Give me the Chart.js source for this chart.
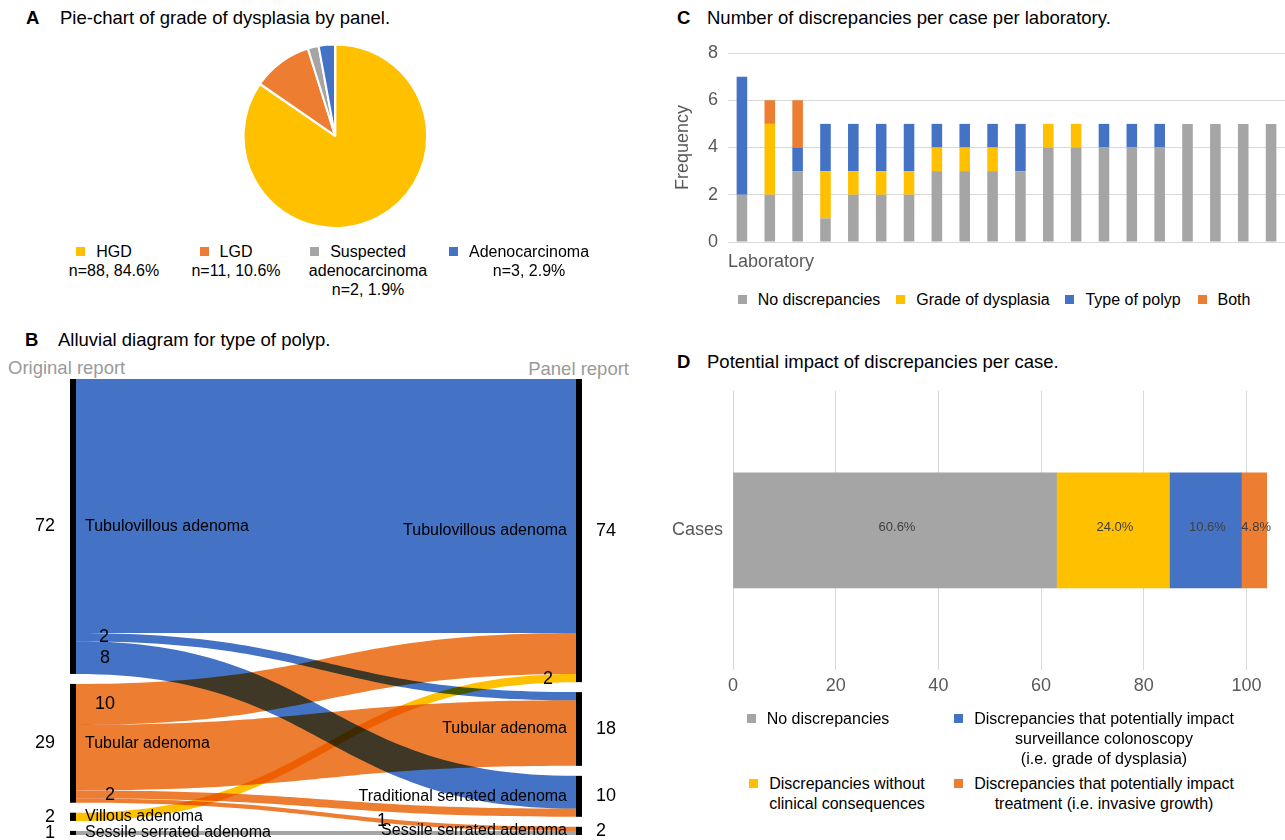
<!DOCTYPE html>
<html>
<head>
<meta charset="utf-8">
<title>Discrepancies between original and panel report</title>
<script src="https://cdn.jsdelivr.net/npm/chart.js@4.4.1/dist/chart.umd.min.js"></script>
<style>
  body { margin: 0; background: #fff; font-family: "Liberation Sans", Arial, sans-serif; }
  #page { position: relative; width: 1285px; height: 840px; overflow: hidden; }
  canvas { position: absolute; }
  .title { position: absolute; font-size: 18.5px; line-height: 22px; white-space: nowrap; color: #000; }
  .title b { position: absolute; left: 0; }
  .axis-note { position: absolute; font-size: 18.5px; line-height: 22px; color: #9a9a9a; white-space: nowrap; }
  .legend-item { position: absolute; width: 400px; text-align: center; font-size: 16px; line-height: 19px; color: #000; white-space: nowrap; }
  .legend-item span { position: relative; }
  .swatch { position: absolute; left: -20px; top: 50%; margin-top: -4.5px; width: 9px; height: 9px; }
</style>
</head>
<body>
<div id="page">
  <div class="title" style="left:26px; top:7px;"><b>A</b><span style="margin-left:34px">Pie-chart of grade of dysplasia by panel.</span></div>
  <div class="title" style="left:25px; top:329px;"><b>B</b><span style="margin-left:33px">Alluvial diagram for type of polyp.</span></div>
  <div class="title" style="left:677px; top:7px;"><b>C</b><span style="margin-left:30px">Number of discrepancies per case per laboratory.</span></div>
  <div class="title" style="left:677px; top:351px;"><b>D</b><span style="margin-left:30px">Potential impact of discrepancies per case.</span></div>

  <div class="axis-note" style="left:8px; top:357px;">Original report</div>
  <div class="axis-note" style="right:656px; top:358px;">Panel report</div>

  <canvas id="pieChart" width="670" height="187" style="left:0; top:42px;"></canvas>
  <canvas id="alluvialChart" width="640" height="470" style="left:0; top:370px;"></canvas>
  <canvas id="labChart" width="625" height="250" style="left:660px; top:30px;"></canvas>
  <canvas id="impactChart" width="625" height="330" style="left:660px; top:370px;"></canvas>
</div>

<script>
// ---------- A: grade of dysplasia ----------
const gradeLabels = ['HGD', 'LGD', 'Suspected adenocarcinoma', 'Adenocarcinoma'];
const gradeCounts = [88, 11, 2, 3];
const gradeLegendText = [
  ['HGD', 'n=88, 84.6%'],
  ['LGD', 'n=11, 10.6%'],
  ['Suspected', 'adenocarcinoma', 'n=2, 1.9%'],
  ['Adenocarcinoma', 'n=3, 2.9%']
];

// ---------- B: type of polyp ----------
const originalTypes = ['Tubulovillous adenoma', 'Tubular adenoma', 'Villous adenoma', 'Sessile serrated adenoma'];
const panelTypes = ['Tubulovillous adenoma', 'Tubular adenoma', 'Traditional serrated adenoma', 'Sessile serrated adenoma'];
const flowFrom = [0, 0, 0, 1, 1, 1, 1, 2, 3];
const flowTo = [0, 1, 2, 0, 1, 2, 3, 0, 3];
const flowCounts = [62, 2, 8, 10, 16, 2, 1, 2, 1];
const flowLabelled = [false, true, true, true, false, true, true, true, false];

// ---------- C: discrepancies per laboratory ----------
const laboratories = ['Lab 1', 'Lab 2', 'Lab 3', 'Lab 4', 'Lab 5', 'Lab 6', 'Lab 7', 'Lab 8', 'Lab 9', 'Lab 10',
  'Lab 11', 'Lab 12', 'Lab 13', 'Lab 14', 'Lab 15', 'Lab 16', 'Lab 17', 'Lab 18', 'Lab 19', 'Lab 20'];
const discrepancyTypes = ['No discrepancies', 'Grade of dysplasia', 'Type of polyp', 'Both'];
const noDiscrepancies = [2, 2, 3, 1, 2, 2, 2, 3, 3, 3, 3, 4, 4, 4, 4, 4, 5, 5, 5, 5];
const gradeOfDysplasia = [0, 3, 0, 2, 1, 1, 1, 1, 1, 1, 0, 1, 1, 0, 0, 0, 0, 0, 0, 0];
const typeOfPolyp = [5, 0, 1, 2, 2, 2, 2, 1, 1, 1, 2, 0, 0, 1, 1, 1, 0, 0, 0, 0];
const bothDiscrepancies = [0, 1, 2, 0, 0, 0, 0, 0, 0, 0, 0, 0, 0, 0, 0, 0, 0, 0, 0, 0];
const frequencyTicks = [0, 2, 4, 6, 8];

// ---------- D: potential impact ----------
const impactCategories = ['Cases'];
const impactGroups = ['No discrepancies', 'Discrepancies without clinical consequences',
  'Discrepancies that potentially impact surveillance colonoscopy (i.e. grade of dysplasia)',
  'Discrepancies that potentially impact treatment (i.e. invasive growth)'];
const impactCases = [63, 22, 14, 5];
const impactPercentLabels = ['60.6%', '24.0%', '10.6%', '4.8%'];
const impactTicks = [0, 20, 40, 60, 80, 100];
const impactLegendText = [
  ['No discrepancies'],
  ['Discrepancies without', 'clinical consequences'],
  ['Discrepancies that potentially impact', 'surveillance colonoscopy', '(i.e. grade of dysplasia)'],
  ['Discrepancies that potentially impact', 'treatment (i.e. invasive growth)']
];

// colours (office palette)
const GRAY = '#A5A5A5', YELLOW = '#FFC000', BLUE = '#4472C4', ORANGE = '#ED7D31';
const FONT = '"Liberation Sans", Arial, sans-serif';
const TICK_COLOR = '#595959';
const GRID_COLOR = '#d9d9d9';

Chart.defaults.font.family = FONT;
Chart.defaults.animation = false;
Chart.defaults.responsive = false;
Chart.defaults.plugins.legend.display = false;
Chart.defaults.plugins.tooltip.enabled = false;

const page = document.getElementById('page');

// html legends, lines centred, swatch before the first line
function addLegendItem(color, lines, cx, top) {
  const box = document.createElement('div');
  box.className = 'legend-item';
  box.style.left = (cx - 200) + 'px';
  box.style.top = top + 'px';
  lines.forEach((line, i) => {
    const row = document.createElement('div');
    const span = document.createElement('span');
    span.textContent = line;
    if (i === 0) {
      const sw = document.createElement('i');
      sw.className = 'swatch';
      sw.style.background = color;
      span.appendChild(sw);
    }
    row.appendChild(span);
    box.appendChild(row);
  });
  page.appendChild(box);
  return box;
}

// ---------- A ----------
const gradeColors = [YELLOW, ORANGE, GRAY, BLUE];
new Chart(document.getElementById('pieChart'), {
  type: 'pie',
  data: {
    labels: gradeLabels,
    datasets: [{
      data: gradeCounts,
      backgroundColor: gradeColors,
      borderColor: '#fff',
      borderWidth: 2,
      offset: [3, 0, 0, 0]
    }]
  }
});
const pieLegendPos = [[114, 242], [236, 242], [368, 242], [529, 242]];
gradeLegendText.forEach((lines, i) => addLegendItem(gradeColors[i], lines, pieLegendPos[i][0], pieLegendPos[i][1]));

// ---------- B ----------
const typeColors = [BLUE, ORANGE, YELLOW, GRAY];   // by original report
const NODE_GAP = 2.44;                             // gap between stacked nodes, in cases

function stackNodes(count, side) {
  const totals = new Array(count).fill(0);
  flowCounts.forEach((v, i) => { totals[side === 'from' ? flowFrom[i] : flowTo[i]] += v; });
  const starts = [];
  let pos = 0;
  totals.forEach(t => { starts.push(pos); pos += t + NODE_GAP; });
  return { totals, starts, end: pos - NODE_GAP };
}
const leftStack = stackNodes(originalTypes.length, 'from');
const rightStack = stackNodes(panelTypes.length, 'to');

// band offsets: at the source ordered by target, at the target ordered by source
const bandFrom = [], bandTo = [];
(function () {
  const usedL = leftStack.starts.slice(), usedR = rightStack.starts.slice();
  const order = flowCounts.map((v, i) => i);
  order.slice().sort((a, b) => flowFrom[a] - flowFrom[b] || flowTo[a] - flowTo[b]).forEach(i => {
    bandFrom[i] = usedL[flowFrom[i]]; usedL[flowFrom[i]] += flowCounts[i];
  });
  order.slice().sort((a, b) => flowTo[a] - flowTo[b] || flowFrom[a] - flowFrom[b]).forEach(i => {
    bandTo[i] = usedR[flowTo[i]]; usedR[flowTo[i]] += flowCounts[i];
  });
})();
// where each count label sits, as a share of the width between the two columns
const flowLabelAt = [0, 0.056, 0.058, 0.058, 0, 0.068, 0.612, 0.944, 0];

// x share along the S-curve (controls at mid width) for parameter t
const curveX = t => 1.5 * t * (1 - t) + t * t * t;
function curveT(share) {
  let lo = 0, hi = 1;
  for (let k = 0; k < 30; k++) {
    const mid = (lo + hi) / 2;
    if (curveX(mid) < share) lo = mid; else hi = mid;
  }
  return (lo + hi) / 2;
}

const alluvialPlugin = {
  id: 'alluvial',
  afterDatasetsDraw(chart) {
    const { ctx } = chart;
    const xs = chart.scales.x, ys = chart.scales.y;
    const half = 3;
    const x0 = xs.getPixelForValue(0) + half, x1 = xs.getPixelForValue(1) - half;
    const xm = (x0 + x1) / 2;
    const py = v => ys.getPixelForValue(v);

    ctx.save();
    ctx.globalCompositeOperation = 'multiply';
    flowCounts.forEach((v, i) => {
      const a0 = py(bandFrom[i]), a1 = py(bandFrom[i] + v);
      const b0 = py(bandTo[i]), b1 = py(bandTo[i] + v);
      ctx.beginPath();
      ctx.moveTo(x0, a0);
      ctx.bezierCurveTo(xm, a0, xm, b0, x1, b0);
      ctx.lineTo(x1, b1);
      ctx.bezierCurveTo(xm, b1, xm, a1, x0, a1);
      ctx.closePath();
      ctx.fillStyle = typeColors[flowFrom[i]];
      ctx.fill();
    });
    ctx.restore();

    ctx.save();
    ctx.fillStyle = '#000';
    ctx.textBaseline = 'middle';
    const xl = xs.getPixelForValue(0), xr = xs.getPixelForValue(1);
    [[leftStack, originalTypes, xl, 'left'], [rightStack, panelTypes, xr, 'right']].forEach(([st, names, xc, side]) => {
      st.totals.forEach((t, k) => {
        const top = py(st.starts[k]), bot = py(st.starts[k] + t);
        ctx.fillRect(xc - half, top, half * 2, bot - top);
        const cy = (top + bot) / 2;
        ctx.font = '16px ' + FONT;
        ctx.textAlign = side === 'left' ? 'left' : 'right';
        ctx.fillText(names[k], side === 'left' ? xc + half + 9 : xc - half - 9, cy);
        ctx.font = '18px ' + FONT;
        ctx.textAlign = side === 'left' ? 'right' : 'left';
        ctx.fillText(String(t), side === 'left' ? xc - half - 15 : xc + half + 14, cy);
      });
    });

    // flow counts
    ctx.font = '18px ' + FONT;
    ctx.textAlign = 'center';
    flowCounts.forEach((v, i) => {
      if (!flowLabelled[i]) return;
      const t = curveT(flowLabelAt[i]);
      const s = 3 * t * t - 2 * t * t * t;
      const xAt = x0 + (x1 - x0) * curveX(t);
      const mid = bandFrom[i] + (bandTo[i] - bandFrom[i]) * s + v / 2;
      ctx.fillText(String(v), xAt, py(mid));
    });
    ctx.restore();
  }
};

new Chart(document.getElementById('alluvialChart'), {
  type: 'scatter',
  data: { datasets: [{ data: [] }] },
  options: {
    layout: { padding: { left: 73, right: 61, top: 9, bottom: 5 } },
    scales: {
      x: { type: 'linear', min: 0, max: 1, display: false },
      y: { type: 'linear', min: 0, max: Math.max(leftStack.end, rightStack.end), reverse: true, display: false }
    }
  },
  plugins: [alluvialPlugin]
});

// ---------- C ----------
const labSeries = [noDiscrepancies, gradeOfDysplasia, typeOfPolyp, bothDiscrepancies];
const labColors = [GRAY, YELLOW, BLUE, ORANGE];
new Chart(document.getElementById('labChart'), {
  type: 'bar',
  data: {
    labels: laboratories,
    datasets: labSeries.map((d, i) => ({
      label: discrepancyTypes[i],
      data: d,
      backgroundColor: labColors[i],
      barPercentage: 0.38,
      categoryPercentage: 1
    }))
  },
  options: {
    layout: { padding: { top: 23 } },
    scales: {
      x: {
        stacked: true,
        grid: { display: false },
        border: { display: false },
        ticks: { display: false },
        title: { display: true, text: 'Laboratory', align: 'start', color: TICK_COLOR, font: { size: 18 }, padding: { top: 0, bottom: 7 } },
        afterFit: s => { s.height = 38; }
      },
      y: {
        stacked: true,
        min: frequencyTicks[0],
        max: frequencyTicks[frequencyTicks.length - 1],
        afterBuildTicks: s => { s.ticks = frequencyTicks.map(v => ({ value: v })); },
        ticks: { color: TICK_COLOR, font: { size: 18 }, padding: 10 },
        grid: { color: GRID_COLOR, drawTicks: false },
        border: { display: false },
        title: { display: true, text: 'Frequency', color: TICK_COLOR, font: { size: 18 }, padding: { top: 12, bottom: 0 } },
        afterFit: s => { s.width = 68; }
      }
    }
  }
});
const labLegendPos = [819, 983, 1133, 1234];
discrepancyTypes.forEach((t, i) => addLegendItem(labColors[i], [t], labLegendPos[i], 289.5));

// ---------- D ----------
const impactColors = [GRAY, YELLOW, BLUE, ORANGE];
const segmentLabels = {
  id: 'segmentLabels',
  afterDatasetsDraw(chart) {
    const { ctx } = chart;
    ctx.save();
    ctx.font = '13px ' + FONT;
    ctx.fillStyle = '#404040';
    ctx.textAlign = 'center';
    ctx.textBaseline = 'middle';
    chart.data.datasets.forEach((ds, i) => {
      const bar = chart.getDatasetMeta(i).data[0];
      ctx.fillText(impactPercentLabels[i], (bar.x + bar.base) / 2 + 2, bar.y - 3);
    });
    ctx.restore();
  }
};
new Chart(document.getElementById('impactChart'), {
  type: 'bar',
  data: {
    labels: impactCategories,
    datasets: impactCases.map((v, i) => ({
      label: impactGroups[i],
      data: [v],
      backgroundColor: impactColors[i],
      barThickness: 115
    }))
  },
  options: {
    indexAxis: 'y',
    layout: { padding: { top: 13, right: 18 } },
    scales: {
      x: {
        stacked: true,
        min: 0,
        max: 104,
        afterBuildTicks: s => { s.ticks = impactTicks.map(v => ({ value: v })); },
        ticks: { color: TICK_COLOR, font: { size: 18 }, padding: 5 },
        grid: { color: GRID_COLOR, drawTicks: false },
        border: { display: false },
        afterFit: s => { s.height = 30; }
      },
      y: {
        stacked: true,
        grid: { display: false, drawTicks: false },
        border: { display: false },
        ticks: { color: TICK_COLOR, font: { size: 18 }, padding: 10 },
        afterFit: s => { s.width = 73; }
      }
    }
  },
  plugins: [segmentLabels]
});
const impactLegendPos = [[828, 709], [847, 774], [1104, 709], [1104, 774]];
impactLegendText.forEach((lines, i) => {
  const box = addLegendItem(impactColors[i], lines, impactLegendPos[i][0], impactLegendPos[i][1]);
  box.style.lineHeight = '20px';
});
</script>
</body>
</html>
